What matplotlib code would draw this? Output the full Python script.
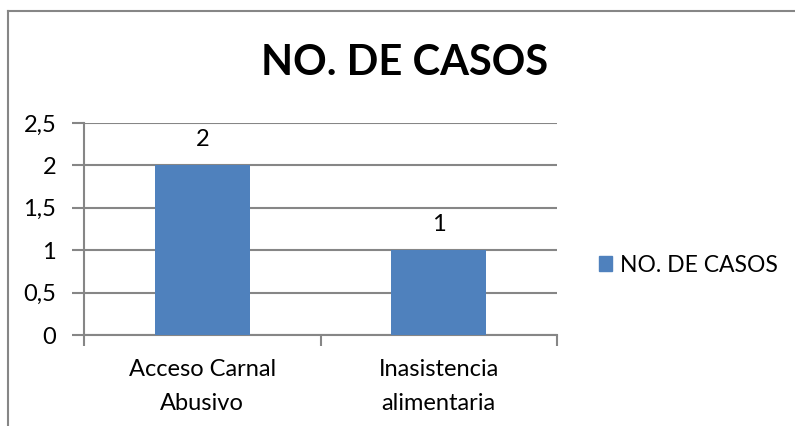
import matplotlib.pyplot as plt
from matplotlib.lines import Line2D
from matplotlib.patches import Patch

categories = ["Acceso Carnal\nAbusivo", "Inasistencia\nalimentaria"]
casos = [2, 1]
yticks = [0, 0.5, 1, 1.5, 2, 2.5]
ytick_labels = ["0", "0,5", "1", "1,5", "2", "2,5"]
title = "NO. DE CASOS"

BAR = "#4F81BD"
GRID = "#868686"

plt.rcParams['font.family'] = ['Lato', 'DejaVu Sans']

fig = plt.figure(figsize=(7.95, 4.26), dpi=100)
ax = fig.add_axes([84 / 795, 1 - 335 / 426, (557 - 84) / 795, (335 - 123) / 426])

x = list(range(len(categories)))
bars = ax.bar(x, casos, width=0.4, color=BAR, zorder=3)
for xi, v in zip(x, casos):
    ax.annotate(str(v), (xi, v), xytext=(0, 11), textcoords='offset points',
                ha='center', va='bottom', fontsize=17)

ax.set_xlim(-0.5, len(categories) - 0.5)
ax.set_ylim(0, 2.5)
ax.set_yticks(yticks)
ax.set_yticklabels(ytick_labels, fontsize=17)
ax.set_xticks(x)
ax.set_xticklabels(categories, fontsize=17, linespacing=1.8)
ax.set_xticks([-0.5, 0.5, 1.5], minor=True)
ax.tick_params(axis='x', which='major', length=0, pad=17)
ax.tick_params(axis='x', which='minor', length=8, width=1.5, color=GRID, direction='out')
ax.tick_params(axis='y', length=9, width=1.5, color=GRID, pad=11)

ax.grid(axis='y', color=GRID, linewidth=1.5, zorder=0)
ax.set_axisbelow(True)
for s in ['top', 'right']:
    ax.spines[s].set_visible(False)
for s in ['left', 'bottom']:
    ax.spines[s].set_color(GRID)
    ax.spines[s].set_linewidth(1.5)

fig.text(405 / 795, 1 - 63 / 426, title, fontsize=30, fontweight='bold',
         ha='center', va='center')

handle = Patch(color=BAR, label=title)
fig.legend(handles=[handle], loc='center left', bbox_to_anchor=(578 / 795, 1 - 265 / 426),
           frameon=False, fontsize=16.5, handlelength=0.6, handleheight=0.6,
           handletextpad=0.35)

# outer chart border (only left and top edges visible in the crop)
fig.add_artist(Line2D([8 / 795, 8 / 795], [0, 1 - 11 / 426], transform=fig.transFigure,
                      color=GRID, linewidth=1.5))
fig.add_artist(Line2D([8 / 795, 1], [1 - 11 / 426, 1 - 11 / 426], transform=fig.transFigure,
                      color=GRID, linewidth=1.5))

plt.savefig("out.png", dpi=100)
